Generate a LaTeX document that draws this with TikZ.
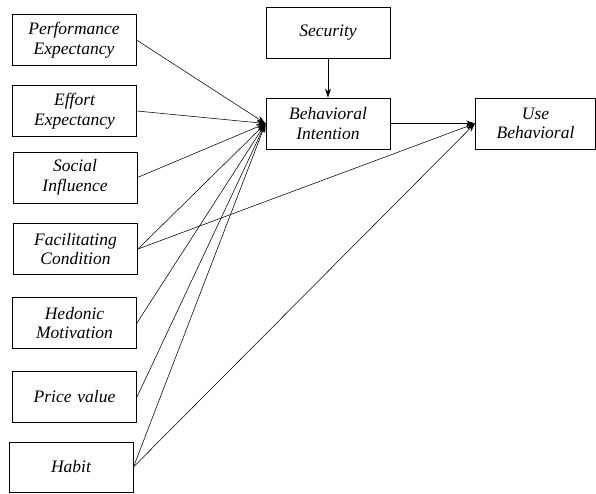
\documentclass[tikz,border=0pt]{standalone}
\usepackage{fontspec}
\setmainfont{Liberation Serif}
\usepackage{tikz}
\usetikzlibrary{arrows.meta}

\begin{document}
\begin{tikzpicture}[x=1pt,y=-1pt,
	box/.style={shape=rectangle,draw=black,line width=0.9pt,minimum width=124pt,minimum height=51pt,text width=120pt,align=center,font=\fontsize{17.5}{19.5}\selectfont\itshape,inner sep=0pt},
	link/.style={line width=0.55pt,-{Stealth[length=9pt,width=6pt]}}]
	\useasboundingbox (0,0) rectangle (596,493);

	\node[box] (pe)  at (74, 40)    {Performance\\Expectancy};
	\node[box] (ee)  at (74.5, 111) {Effort\\Expectancy};
	\node[box] (si)  at (75, 177.5) {Social\\Influence};
	\node[box] (fc)  at (75.5, 249) {Facilitating\\Condition};
	\node[box] (hm)  at (74.5, 323) {Hedonic\\Motivation};
	\node[box] (pv)  at (74.5, 397) {Price value};
	\node[box,minimum height=50pt] (hab) at (71, 467)   {Habit};
	\node[box] (sec) at (328, 32.5) {Security};
	\node[box] (bi)  at (328, 123.5) {Behavioral\\Intention};
	\node[box,minimum width=119pt] (ub) at (535.5, 123.5) {Use\\Behavioral};

	\path[link] (pe.east) edge (bi.west);
	\path[link] (ee.east) edge (bi.west);
	\path[link] (si.east) edge (bi.west);
	\path[link] (fc.east) edge (bi.west);
	\path[link] (hm.east) edge (bi.west);
	\path[link] (pv.east) edge (bi.west);
	\path[link] (hab.east) edge (bi.west);
	\path[link] (sec) edge (bi);
	\path[link] (bi) edge (ub);
	\path[link] (fc.east) edge (ub.west);
	\path[link] (hab.east) edge (ub.west);
\end{tikzpicture}
\end{document}
